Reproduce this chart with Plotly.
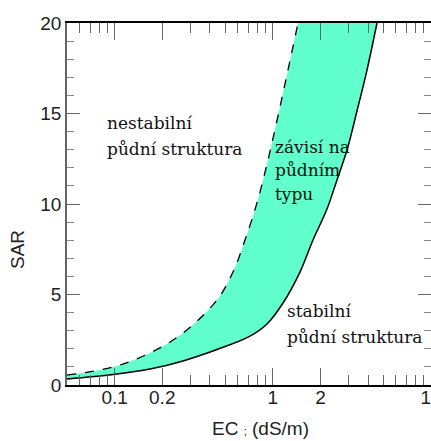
import numpy as np
import plotly.graph_objects as go

# Upper (dashed) boundary: EC vs SAR
ec_upper = [0.05, 0.0977, 0.1674, 0.2705, 0.4437, 0.560, 0.667, 0.794, 0.932, 1.078, 1.247, 1.443]
sar_upper = [0.55, 0.99, 1.77, 2.87, 4.70, 6.24, 8.01, 10.06, 12.43, 14.86, 17.40, 20.0]

# Lower (solid) boundary
ec_lower = [0.05, 0.0977, 0.1674, 0.2705, 0.4437, 0.7176, 0.919, 1.160, 1.485, 1.795,
            2.200, 2.545, 2.944, 3.405, 3.938, 4.556]
sar_lower = [0.33, 0.58, 0.88, 1.33, 1.96, 2.70, 3.37, 4.53, 6.24, 8.01,
             9.72, 11.33, 12.98, 15.14, 17.40, 20.0]

x_tickvals = [0.1, 0.2, 1, 2, 10]
x_ticktext = ["0.1", "0.2", "1", "2", "10"]
x_minor = [0.06, 0.07, 0.08, 0.09, 0.3, 0.4, 0.5, 0.6, 0.7, 0.8, 0.9, 3, 4, 5, 6, 7, 8, 9]
y_tickvals = [0, 5, 10, 15, 20]

fill_color = "#60FFCC"

fig = go.Figure()

fig.add_trace(go.Scatter(
    x=ec_upper, y=sar_upper, mode="lines",
    line=dict(color="black", width=1.3, dash="dash", shape="spline", smoothing=1.0),
    showlegend=False,
))
fig.add_trace(go.Scatter(
    x=ec_lower, y=sar_lower, mode="lines",
    fill="tonexty", fillcolor=fill_color,
    line=dict(color="black", width=1.5, shape="spline", smoothing=1.0),
    showlegend=False,
))

serif = dict(family="DejaVu Serif", size=17, color="#111")
labels = [
    ("nestabilní", 10**-1.061, 14.48),
    ("půdní struktura", 10**-1.061, 13.04),
    ("závisí na", 10**0.0, 13.15),
    ("půdním", 10**0.0, 11.88),
    ("typu", 10**0.0, 10.55),
    ("stabilní", 10**0.077, 4.09),
    ("půdní struktura", 10**0.077, 2.65),
]
for txt, xv, yv in labels:
    fig.add_annotation(x=np.log10(xv), y=yv, text=txt, showarrow=False,
                       xanchor="left", yanchor="middle", font=serif,
                       xref="x", yref="y")

sans = dict(family="Liberation Sans, Arial", size=19, color="#222")
fig.add_annotation(
    x=(260 - 67) / 364, y=-(428 - 385) / 362, xref="paper", yref="paper",
    text="EC <span style='font-size:11px'>;</span> (dS/m)", showarrow=False,
    xanchor="center", yanchor="middle", font=sans,
)
fig.add_annotation(
    x=-(67 - 17) / 364, y=(385 - 249) / 362, xref="paper", yref="paper",
    text="SAR", textangle=-90, showarrow=False,
    xanchor="center", yanchor="middle", font=sans,
)

fig.update_xaxes(
    type="log", range=[np.log10(0.05), 1.0], automargin=False,
    tickmode="array", tickvals=x_tickvals, ticktext=x_ticktext,
    ticks="inside", ticklen=17, tickwidth=1, tickcolor="#666",
    minor=dict(tickmode="array", tickvals=x_minor, ticks="inside",
               ticklen=10, tickwidth=1, tickcolor="#666", showgrid=False),
    showline=True, linecolor="black", linewidth=2, mirror="ticks",
    showgrid=False, zeroline=False, ticklabeloverflow="allow",
    ticklabelstandoff=-6,
    tickfont=dict(family="Liberation Sans, Arial", size=19, color="#222"),
)
fig.update_yaxes(
    range=[0, 20], tickmode="array", tickvals=y_tickvals, automargin=False,
    ticks="inside", ticklen=13, tickwidth=1, tickcolor="#666",
    minor=dict(tickmode="linear", tick0=0, dtick=1, ticks="inside",
               ticklen=7, tickwidth=1, tickcolor="#888", showgrid=False),
    showline=True, linecolor="#666", linewidth=1.5, mirror="ticks",
    showgrid=False, zeroline=False, ticklabeloverflow="allow",
    tickfont=dict(family="Liberation Sans, Arial", size=19, color="#222"),
)

fig.update_layout(
    width=431, height=441,
    margin=dict(l=67, r=0, t=23, b=56, autoexpand=False),
    plot_bgcolor="white", paper_bgcolor="white",
    showlegend=False,
)

fig.write_html("out.html", config={"displayModeBar": False},
               post_script="document.body.style.margin='0';document.body.style.overflow='hidden';")
